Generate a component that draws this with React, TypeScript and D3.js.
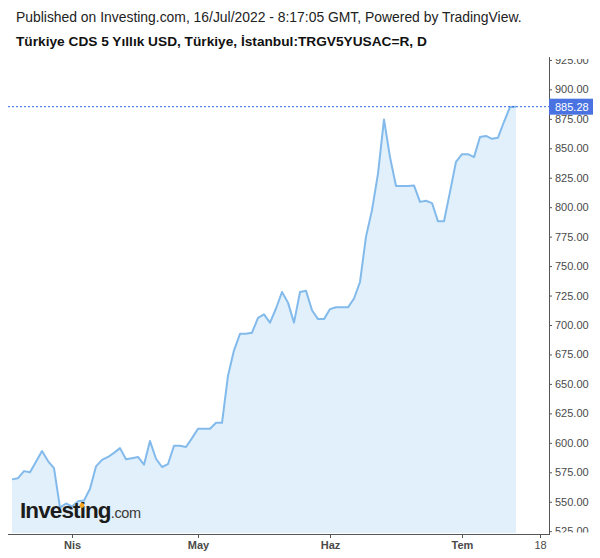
import { useEffect, useRef } from "react";
import * as d3 from "d3";

// daily closes, 18 Mar 2022 -> 14 Jul 2022 (one value per bar)
const values = [
  569, 570, 576, 575, 584, 593, 584.5, 578.5, 545, 548.5,
  546, 550.5, 551, 561, 580, 585.5, 588, 591.5, 595.5, 586,
  587, 588, 581.5, 601.5, 586.5, 579.5, 582, 597.5, 597.5, 596.5,
  604, 612, 612, 612, 617, 617, 657, 678.5, 692.5, 692.5,
  693.5, 706, 709, 702, 714, 728, 719, 702, 728, 729,
  712.5, 705, 705, 713.5, 715, 715, 715, 722.5, 736.5, 775,
  797.5, 828.5, 874.5, 842.5, 818, 818, 818, 818.5, 804.5, 805.5,
  803.5, 788, 788, 813, 838.5, 845, 845, 842.5, 859.5, 860.5,
  858, 859, 872.5, 885, 885.28,
];
const lastValue = 885.28;

const priceTicks = [525, 550, 575, 600, 625, 650, 675, 700, 725, 750, 775, 800, 825, 850, 875, 900, 925];

const monthLabels = ["Nis", "May", "Haz", "Tem", "18"];
const monthBars = [10, 31, 53, 75, 88];
const monthBold = [true, true, true, true, false];

const publishedText = "Published on Investing.com, 16/Jul/2022 - 8:17:05 GMT, Powered by TradingView.";
const titleText = "Türkiye CDS 5 Yıllık USD, Türkiye, İstanbul:TRGV5YUSAC=R, D";

const App = () => {
  const svgRef = useRef<SVGSVGElement | null>(null);

  useEffect(() => {
    if (!svgRef.current) return;
    const svg = d3.select(svgRef.current);
    svg.selectAll("*").remove();

    const width = 600;
    const height = 558;
    const paneLeft = 8;
    const paneTop = 57;
    const axisX = 549;
    const axisY = 534;
    const font = "Arial, 'Liberation Sans', sans-serif";

    svg.append("rect").attr("width", width).attr("height", height).attr("fill", "#fff");

    // header
    svg.append("text")
      .attr("x", 16).attr("y", 22)
      .attr("font-family", font).attr("font-size", 13.9)
      .attr("fill", "#222")
      .text(publishedText);
    svg.append("text")
      .attr("x", 16).attr("y", 46)
      .attr("font-family", font).attr("font-size", 13.7).attr("font-weight", "bold")
      .attr("fill", "#111")
      .text(titleText);

    const x = d3.scaleLinear().domain([0, 88]).range([12, 540]);
    const y = d3.scaleLinear().domain([525, 925]).range([531.2, 59.9]);

    const defs = svg.append("defs");
    defs.append("clipPath").attr("id", "pane")
      .append("rect")
      .attr("x", paneLeft).attr("y", paneTop)
      .attr("width", axisX - paneLeft).attr("height", axisY - paneTop - 1);
    defs.append("clipPath").attr("id", "scale")
      .append("rect")
      .attr("x", axisX).attr("y", paneTop + 2)
      .attr("width", width - axisX).attr("height", axisY - paneTop - 3.5);

    const pane = svg.append("g").attr("clip-path", "url(#pane)");

    const area = d3.area<number>()
      .x((_, i) => x(i))
      .y0(axisY)
      .y1(d => y(d));
    const line = d3.line<number>()
      .x((_, i) => x(i))
      .y(d => y(d));

    pane.append("path")
      .datum(values)
      .attr("fill", "#e1f0fa")
      .attr("d", area);
    pane.append("path")
      .datum(values)
      .attr("fill", "none")
      .attr("stroke", "#82baec")
      .attr("stroke-width", 2)
      .attr("stroke-linejoin", "round")
      .attr("d", line);

    // watermark logo
    const logo = pane.append("text")
      .attr("x", 20).attr("y", 518)
      .attr("font-family", font);
    logo.append("tspan")
      .attr("font-size", 22.5).attr("font-weight", "bold")
      .attr("letter-spacing", -0.9)
      .attr("fill", "#1c1c1c")
      .text("Investing");
    logo.append("tspan")
      .attr("font-size", 14.5)
      .attr("letter-spacing", -0.3)
      .attr("fill", "#3a3a3a")
      .text(".com");
    const textNode = logo.node() as SVGTextElement;
    if (textNode) {
      const box = textNode.getExtentOfChar(6);
      pane.append("circle")
        .attr("cx", box.x + box.width / 2 - 0.4)
        .attr("cy", box.y + box.height * 0.3)
        .attr("r", 2.4)
        .attr("fill", "#f5a623");
    }

    // last price dashed line
    svg.append("line")
      .attr("x1", paneLeft).attr("x2", axisX)
      .attr("y1", y(lastValue)).attr("y2", y(lastValue))
      .attr("stroke", "#3366e6")
      .attr("stroke-width", 1)
      .attr("stroke-dasharray", "2,2");

    // price scale
    const scale = svg.append("g").attr("clip-path", "url(#scale)");
    const yAxis = scale.append("g")
      .attr("transform", `translate(${axisX},0)`)
      .call(d3.axisRight(y).tickValues(priceTicks).tickSize(3).tickPadding(3).tickFormat(d3.format(".2f")));
    yAxis.select(".domain").remove();
    yAxis.attr("color", "#555").attr("font-family", font).attr("font-size", 11);
    yAxis.selectAll("text").attr("fill", "#4a4a4a");

    svg.append("line")
      .attr("x1", axisX + 0.5).attr("x2", axisX + 0.5)
      .attr("y1", paneTop).attr("y2", axisY)
      .attr("stroke", "#555");

    const tag = svg.append("g").attr("transform", `translate(${axisX},${y(lastValue)})`);
    tag.append("rect")
      .attr("x", 0).attr("y", -8)
      .attr("width", 44).attr("height", 16)
      .attr("fill", "#4a72e0");
    tag.append("text")
      .attr("x", 6).attr("y", 0).attr("dy", "0.35em")
      .attr("font-family", font).attr("font-size", 11)
      .attr("fill", "#fff")
      .text(lastValue.toFixed(2));

    // time scale
    svg.append("line")
      .attr("x1", paneLeft).attr("x2", axisX + 1)
      .attr("y1", axisY + 0.5).attr("y2", axisY + 0.5)
      .attr("stroke", "#555");
    const xAxis = svg.append("g")
      .attr("transform", `translate(0,${axisY})`)
      .call(d3.axisBottom(x).tickValues(monthBars).tickSize(4).tickPadding(3)
        .tickFormat((_, i) => monthLabels[i]));
    xAxis.select(".domain").remove();
    xAxis.attr("color", "#555").attr("font-family", font).attr("font-size", 11);
    xAxis.selectAll<SVGTextElement, number>("text")
      .attr("fill", "#4a4a4a")
      .attr("font-weight", (_, i) => (monthBold[i] ? "bold" : "normal"));
  }, []);

  return (
    <svg
      ref={svgRef}
      width={600}
      height={558}
      style={{ position: "absolute", left: 0, top: 0 }}
    />
  );
};

export default App;
